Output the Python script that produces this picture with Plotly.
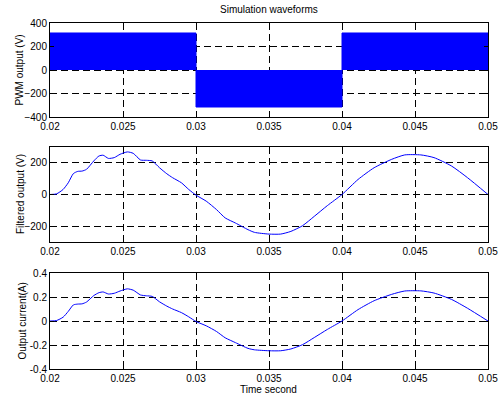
import plotly.graph_objects as go

# ---------------- data ----------------
x_ticks = [0.02, 0.025, 0.03, 0.035, 0.04, 0.045, 0.05]
x_tick_labels = ["0.02", "0.025", "0.03", "0.035", "0.04", "0.045", "0.05"]

# PWM (unipolar) envelope: switching between 0 and the level in each half cycle
pwm_edges = [0.02, 0.03, 0.04, 0.05]
pwm_levels = [315, -315, 315]

# Filtered output voltage (V)
v_t = [0.02, 0.02045, 0.0209, 0.02125, 0.0216, 0.0219, 0.0222, 0.0225, 0.0230, 0.02335,
       0.02364, 0.0240, 0.0244, 0.0248, 0.0253, 0.0257, 0.0262, 0.0266, 0.0270, 0.0275,
       0.0280, 0.0284, 0.0290, 0.0295, 0.0300, 0.0307, 0.0314, 0.0320, 0.0327, 0.03356,
       0.0340, 0.0350, 0.0358, 0.0365, 0.0373, 0.0381, 0.0390, 0.0400, 0.0411, 0.0422,
       0.0434, 0.0443, 0.0454, 0.0463, 0.0475, 0.0486, 0.0500]
v_val = [0, 4, 32, 74, 132, 146, 148, 159, 212, 243,
         248, 228, 233, 254, 269, 260, 218, 216, 212, 169,
         131, 106, 74, 32, -4, -42, -95, -148, -180, -222,
         -239, -250, -250, -233, -197, -138, -70, 0, 95, 169,
         222, 250, 250, 233, 180, 106, 0]

# Output current (A)
i_t = [0.02, 0.02045, 0.0209, 0.02125, 0.0216, 0.0219, 0.0222, 0.0225, 0.0230, 0.02335,
       0.02364, 0.0240, 0.0244, 0.0248, 0.0253, 0.0257, 0.0262, 0.0266, 0.0270, 0.0275,
       0.0280, 0.0284, 0.0290, 0.0295, 0.0300, 0.0307, 0.0314, 0.0320, 0.0327, 0.03356,
       0.0340, 0.0350, 0.0358, 0.0365, 0.0373, 0.0381, 0.0390, 0.0400, 0.0411, 0.0422,
       0.0434, 0.0443, 0.0454, 0.0463, 0.0475, 0.0486, 0.0500]
i_val = [0, 0.004, 0.032, 0.08, 0.134, 0.141, 0.143, 0.158, 0.212, 0.236,
         0.242, 0.225, 0.231, 0.25, 0.268, 0.257, 0.217, 0.21, 0.205, 0.16,
         0.124, 0.1, 0.07, 0.035, -0.004, -0.04, -0.087, -0.14, -0.18, -0.228,
         -0.24, -0.248, -0.248, -0.233, -0.197, -0.138, -0.07, 0, 0.095, 0.169,
         0.222, 0.25, 0.251, 0.233, 0.18, 0.106, 0]

y_labels = ["PWM output (V)", "Filtered output (V)", "Output current(A)"]
title_text = "Simulation waveforms"
xlabel_text = "Time second"

# ---------------- figure ----------------
BLUE = "#0000FF"
FONT = "Liberation Sans"
W, H = 498, 394
L, R, T, B = 50, 10, 23, 25
pw, ph = W - L - R, H - T - B

fig = go.Figure()

px, py = [], []
for k, lvl in enumerate(pwm_levels):
    a, b = pwm_edges[k], pwm_edges[k + 1]
    px += [a, a, b, b, None]
    py += [0, lvl, lvl, 0, None]
fig.add_trace(go.Scatter(x=px, y=py, mode="lines", fill="toself",
                         fillcolor=BLUE, line=dict(color=BLUE, width=1),
                         xaxis="x", yaxis="y", hoverinfo="skip"))
fig.add_trace(go.Scatter(x=v_t, y=v_val, mode="lines",
                         line=dict(color=BLUE, width=1, shape="spline", smoothing=0.6),
                         xaxis="x2", yaxis="y2"))
fig.add_trace(go.Scatter(x=i_t, y=i_val, mode="lines",
                         line=dict(color=BLUE, width=1, shape="spline", smoothing=0.6),
                         xaxis="x3", yaxis="y3"))

def dom(y0, y1):
    return [(H - B - y1) / ph, (H - B - y0) / ph]

def ypx(y):
    return (H - B - y) / ph

def xpx(x):
    return (x - L) / pw

tf = dict(family=FONT, size=10, color="black")
common_x = dict(range=[0.02, 0.05], tickvals=x_ticks, ticktext=x_tick_labels,
                showline=True, linecolor="black", linewidth=1, mirror="allticks",
                ticks="inside", ticklen=4, tickcolor="black",
                showgrid=True, gridcolor="black", griddash="7px,4px", gridwidth=1,
                zeroline=False, tickfont=tf, automargin=False, ticklabeloverflow="allow")
common_y = dict(showline=True, linecolor="black", linewidth=1, mirror="allticks",
                ticks="inside", ticklen=4, tickcolor="black",
                showgrid=True, gridcolor="black", griddash="7px,4px", gridwidth=1,
                zeroline=False, tickfont=tf, automargin=False, ticklabeloverflow="allow")

panels = [(23, 117), (147, 242), (273, 369)]
ytitle_x = [18.5, 20.5, 21.5]

annotations = [
    dict(text=title_text, x=xpx(269), y=ypx(10), xref="paper", yref="paper",
         showarrow=False, font=tf, xanchor="center", yanchor="middle"),
    dict(text=xlabel_text, x=xpx(268.5), y=ypx(389.5), xref="paper", yref="paper",
         showarrow=False, font=tf, xanchor="center", yanchor="middle"),
]
for (y0, y1), lab, xt in zip(panels, y_labels, ytitle_x):
    annotations.append(dict(text=lab, x=xpx(xt), y=ypx((y0 + y1) / 2), xref="paper", yref="paper",
                            showarrow=False, font=tf, textangle=-90,
                            xanchor="center", yanchor="middle"))

fig.update_layout(
    width=W, height=H,
    margin=dict(l=L, r=R, t=T, b=B, autoexpand=False),
    paper_bgcolor="white", plot_bgcolor="white",
    showlegend=False,
    font=tf,
    xaxis=dict(common_x, domain=[0, 1], anchor="y"),
    xaxis2=dict(common_x, domain=[0, 1], anchor="y2"),
    xaxis3=dict(common_x, domain=[0, 1], anchor="y3"),
    yaxis=dict(common_y, domain=dom(*panels[0]), anchor="x", range=[-400, 400],
               tickvals=[-400, -200, 0, 200, 400]),
    yaxis2=dict(common_y, domain=dom(*panels[1]), anchor="x2", range=[-300, 300],
                tickvals=[-200, 0, 200]),
    yaxis3=dict(common_y, domain=dom(*panels[2]), anchor="x3", range=[-0.4, 0.4],
                tickvals=[-0.4, -0.2, 0, 0.2, 0.4], ticktext=["-0.4", "-0.2", "0", "0.2", "0.4"]),
    annotations=annotations,
)

fig.write_html("out.html", config={"displayModeBar": False},
               post_script="document.body.style.margin='0';document.body.style.overflow='hidden';")
